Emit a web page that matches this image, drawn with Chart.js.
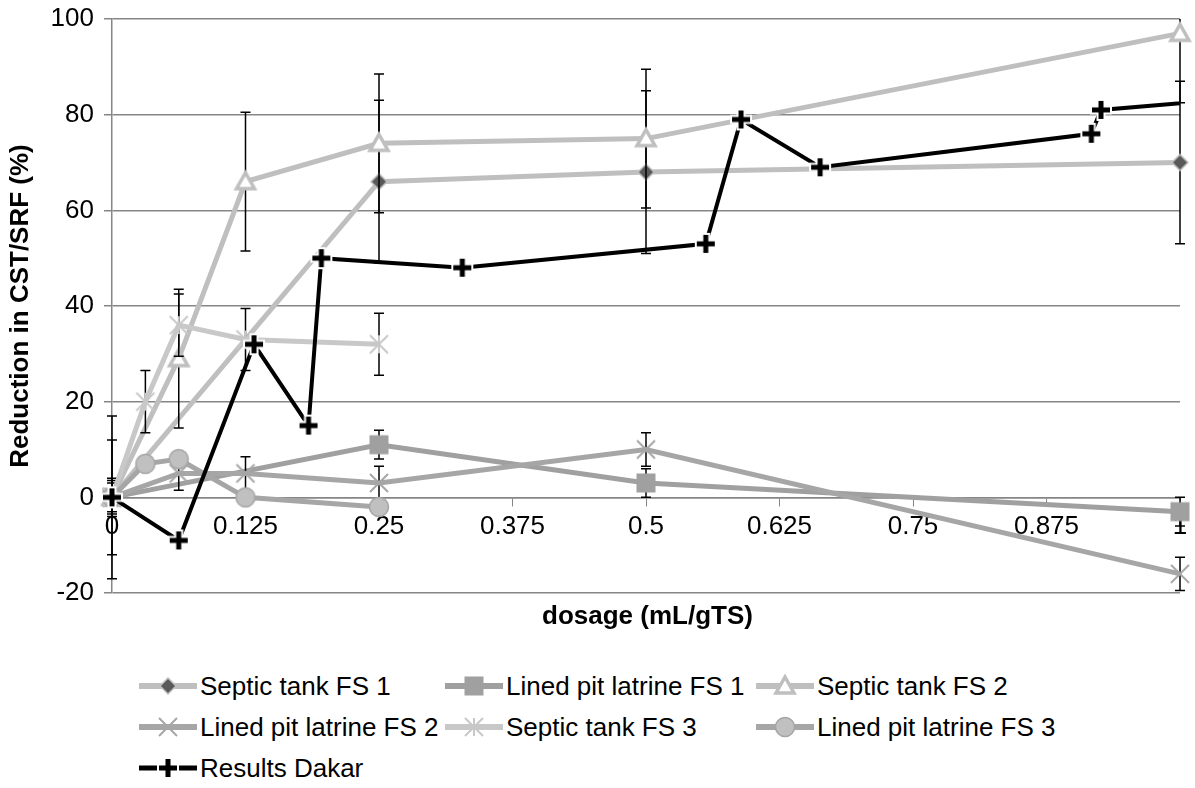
<!DOCTYPE html>
<html>
<head>
<meta charset="utf-8">
<script src="https://cdn.jsdelivr.net/npm/chart.js@4.4.0/dist/chart.umd.min.js"></script>
<style>
body { margin: 0; background: #fff; font-family: "Liberation Sans", Arial, sans-serif; }
#wrap { position: relative; width: 1195px; height: 788px; overflow: hidden; }
#c { position: absolute; left: 0; top: 0; }
#xtitle { position: absolute; left: 112px; width: 1071px; top: 600px; text-align: center; font-weight: bold; font-size: 26px; line-height: 30px; }
.lg { position: absolute; height: 30px; font-size: 26px; line-height: 30px; white-space: nowrap; display: flex; align-items: center; }
.lg canvas { margin-right: 3px; }
</style>
</head>
<body>
<div id="wrap">
  <canvas id="c" width="1195" height="640"></canvas>
  <div id="xtitle">dosage (mL/gTS)</div>
  <div id="legend"></div>
</div>
<script>
// series names, in legend order
const names = ['Septic tank FS 1', 'Lined pit latrine FS 1', 'Septic tank FS 2',
               'Lined pit latrine FS 2', 'Septic tank FS 3', 'Lined pit latrine FS 3', 'Results Dakar']

// dosage (mL/gTS) / reduction (%) / error bar (+-)
const st1X = [0, 0.25, 0.5, 1]
const st1Y = [0, 66, 68, 70]
const st1Err = [17, 17, 17, 17]

const lp1X = [0, 0.25, 0.5, 1]
const lp1Y = [0, 11, 3, -3]
const lp1Err = [3, 3, 3, 3]

const st2X = [0, 0.0625, 0.125, 0.25, 0.5, 1]
const st2Y = [0, 29, 66, 74, 75, 97]
const st2Err = [12, 14.5, 14.5, 14.5, 14.5, 14.5]

const lp2X = [0, 0.0625, 0.125, 0.25, 0.5, 1]
const lp2Y = [0, 5, 5, 3, 10, -16]
const lp2Err = [3.5, 3.5, 3.5, 3.5, 3.5, 3.5]

const st3X = [0, 0.03125, 0.0625, 0.125, 0.25]
const st3Y = [0, 20, 36, 33, 32]
const st3Err = [4, 6.5, 6.5, 6.5, 6.5]

const lp3X = [0, 0.03125, 0.0625, 0.125, 0.25]
const lp3Y = [0, 7, 8, 0, -2]

const dakarX = [0, 0.0625, 0.133, 0.184, 0.196, 0.328, 0.556, 0.589, 0.663, 0.917, 0.926, 1.1]
const dakarY = [0, -9, 32, 15, 50, 48, 53, 79, 69, 76, 81, 84.3]

const xTickLabels = ['0', '0.125', '0.25', '0.375', '0.5', '0.625', '0.75', '0.875', '1']
const yTickLabels = ['-20', '0', '20', '40', '60', '80', '100']

// excel-like markers drawn into small canvases
function marker(kind) {
    const s = 30, m = s / 2
    const c = document.createElement('canvas')
    c.width = s; c.height = s
    const g = c.getContext('2d')
    g.lineJoin = 'miter'
    if (kind === 'diamond') {
        g.beginPath(); g.moveTo(m, m - 8); g.lineTo(m + 8, m); g.lineTo(m, m + 8); g.lineTo(m - 8, m); g.closePath()
        g.fillStyle = '#595959'; g.fill()
        g.strokeStyle = '#bfbfbf'; g.lineWidth = 1.5; g.stroke()
    } else if (kind === 'square') {
        g.fillStyle = '#a0a0a0'; g.fillRect(m - 9.5, m - 9.5, 19, 19)
    } else if (kind === 'triangle') {
        g.beginPath(); g.moveTo(m, m - 9); g.lineTo(m + 9, m + 7); g.lineTo(m - 9, m + 7); g.closePath()
        g.fillStyle = '#fff'; g.fill()
        g.strokeStyle = '#bfbfbf'; g.lineWidth = 3.5; g.stroke()
    } else if (kind === 'x' || kind === 'star') {
        g.strokeStyle = kind === 'x' ? '#a6a6a6' : '#c8c8c8'; g.lineWidth = 2
        g.beginPath()
        g.moveTo(m - 9, m - 9); g.lineTo(m + 9, m + 9)
        g.moveTo(m + 9, m - 9); g.lineTo(m - 9, m + 9)
        if (kind === 'star') { g.moveTo(m, m - 9); g.lineTo(m, m + 9) }
        g.stroke()
    } else if (kind === 'circle') {
        g.beginPath(); g.arc(m, m, 9.5, 0, Math.PI * 2)
        g.fillStyle = '#c0c0c0'; g.fill()
        g.strokeStyle = '#a6a6a6'; g.lineWidth = 1.5; g.stroke()
    } else if (kind === 'plus') {
        g.fillStyle = '#fff'
        g.fillRect(m - 11, m - 4.5, 22, 9); g.fillRect(m - 4.5, m - 11, 9, 22)
        g.fillStyle = '#000'
        g.fillRect(m - 9, m - 2.5, 18, 5); g.fillRect(m - 2.5, m - 9, 5, 18)
    }
    return c
}

const kinds = ['diamond', 'square', 'triangle', 'x', 'star', 'circle', 'plus']
const lineColors = ['#bfbfbf', '#a0a0a0', '#bfbfbf', '#a6a6a6', '#c8c8c8', '#a6a6a6', '#000']
const lineWidths = [5, 5, 5, 5, 5, 5, 4]
const xs = [st1X, lp1X, st2X, lp2X, st3X, lp3X, dakarX]
const ys = [st1Y, lp1Y, st2Y, lp2Y, st3Y, lp3Y, dakarY]
const errs = [st1Err, lp1Err, st2Err, lp2Err, st3Err, null, null]

const datasets = names.map((name, i) => ({
    label: name,
    data: xs[i].map((x, j) => ({ x: x, y: ys[i][j] })),
    errors: errs[i],
    borderColor: lineColors[i],
    borderWidth: lineWidths[i],
    pointStyle: marker(kinds[i]),
    pointRadius: 10,
    tension: 0,
    order: names.length - i,
    clip: i === 6 ? { left: 20, top: 20, right: 0, bottom: 20 } : false
}))

// vertical error bars, drawn just under each series
const errorBars = {
    id: 'errorBars',
    beforeDatasetDraw(chart, args) {
        const ds = chart.data.datasets[args.index]
        if (!ds.errors) return
        const { ctx, chartArea: a, scales: { x, y } } = chart
        ctx.save()
        ctx.beginPath()
        ctx.rect(a.left - 10, a.top, a.right - a.left + 20, a.bottom - a.top + 1)
        ctx.clip()
        ctx.strokeStyle = '#000'
        ctx.lineWidth = 1.5
        ds.data.forEach((p, i) => {
            const e = ds.errors[i]
            if (!e) return
            const px = x.getPixelForValue(p.x)
            const top = y.getPixelForValue(p.y + e)
            const bot = y.getPixelForValue(p.y - e)
            ctx.beginPath()
            ctx.moveTo(px, top); ctx.lineTo(px, bot)
            ctx.moveTo(px - 5, top); ctx.lineTo(px + 5, top)
            ctx.moveTo(px - 5, bot); ctx.lineTo(px + 5, bot)
            ctx.stroke()
        })
        ctx.restore()
    }
}

new Chart(document.getElementById('c'), {
    type: 'line',
    data: { datasets: datasets },
    plugins: [errorBars],
    options: {
        responsive: false,
        animation: false,
        layout: { padding: { left: 0, top: 19, right: 12, bottom: 47 } },
        plugins: { legend: { display: false }, tooltip: { enabled: false } },
        scales: {
            x: {
                type: 'linear',
                min: 0,
                max: 1,
                position: { y: 0 },
                afterFit(s) { s.height = 0; s.paddingLeft = 0; s.paddingRight = 0 },
                ticks: {
                    stepSize: 0.125,
                    autoSkip: false,
                    maxRotation: 0,
                    padding: 6,
                    color: '#000',
                    font: { family: 'Liberation Sans', size: 26 },
                    callback: (v, i) => xTickLabels[i]
                },
                grid: { drawOnChartArea: false, drawTicks: true, tickLength: 8, color: '#868686' },
                border: { color: '#868686', width: 1.5 }
            },
            y: {
                min: -20,
                max: 100,
                afterFit(s) { s.width = 112; s.paddingTop = 0; s.paddingBottom = 0 },
                ticks: {
                    stepSize: 20,
                    padding: 10,
                    color: '#000',
                    font: { family: 'Liberation Sans', size: 26 },
                    callback: (v, i) => yTickLabels[i]
                },
                grid: { color: '#868686', lineWidth: 1.5, tickLength: 8 },
                border: { color: '#868686', width: 1.5 },
                title: {
                    display: true,
                    text: 'Reduction in CST/SRF (%)',
                    color: '#000',
                    font: { family: 'Liberation Sans', size: 26, weight: 'bold' },
                    padding: { top: 5, bottom: 0 }
                }
            }
        }
    }
})

// legend laid out like the excel one: three columns
const colText = [200, 506, 817]
const rowMid = [686, 727, 768]
const legend = document.getElementById('legend')
names.forEach((name, i) => {
    const item = document.createElement('div')
    item.className = 'lg'
    item.style.left = (colText[i % 3] - 61) + 'px'
    item.style.top = (rowMid[Math.floor(i / 3)] - 15) + 'px'
    const sw = document.createElement('canvas')
    sw.width = 58; sw.height = 30
    const g = sw.getContext('2d')
    g.strokeStyle = lineColors[i]
    g.lineWidth = lineWidths[i] + 1
    g.beginPath(); g.moveTo(0, 15); g.lineTo(58, 15); g.stroke()
    const mk = marker(kinds[i])
    g.drawImage(mk, 29 - mk.width / 2, 15 - mk.height / 2)
    item.appendChild(sw)
    item.appendChild(document.createTextNode(name))
    legend.appendChild(item)
})
</script>
</body>
</html>
